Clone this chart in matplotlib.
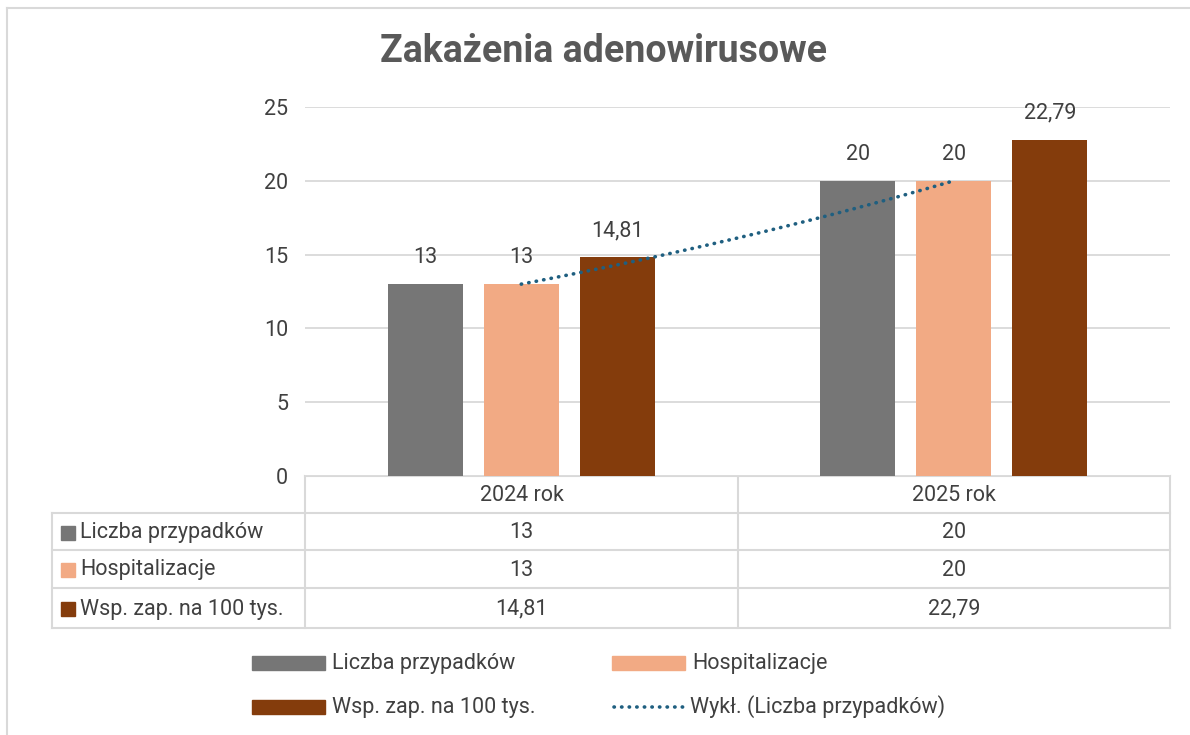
import numpy as np
import matplotlib
matplotlib.use("Agg")
import matplotlib.pyplot as plt
from matplotlib.patches import Rectangle

plt.rcParams['font.family'] = ['Roboto', 'DejaVu Sans']

categories = ['2024 rok', '2025 rok']
series_names = ['Liczba przypadków', 'Hospitalizacje', 'Wsp. zap. na 100 tys.']
cases = [13, 20]
hosp = [13, 20]
rate = [14.81, 22.79]
trend_name = 'Wykł. (Liczba przypadków)'
yticks = [0, 5, 10, 15, 20, 25]

colors = ['#767676', '#f2aa84', '#843c0c']
trend_color = '#1f5f80'
text_color = '#404040'
grid_color = '#d9d9d9'
fs = 15.5

W, H = 1190, 735
fig = plt.figure(figsize=(W / 100, H / 100), dpi=100)

def fx(px):
    return px / W

def fy(py):
    return 1 - py / H

# overlay axes in pixel coordinates (table, legend, border)
ov = fig.add_axes([0, 0, 1, 1])
ov.set_xlim(0, W)
ov.set_ylim(H, 0)
ov.axis('off')

# main plot area
x0, x1, ytop, ybot = 305, 1170, 107, 476
ax = fig.add_axes([fx(x0), fy(ybot), fx(x1) - fx(x0), (ybot - ytop) / H])
ax.set_xlim(-0.5, 1.5)
ax.set_ylim(0, 25)
for s in ax.spines.values():
    s.set_visible(False)
ax.set_xticks([])
ax.set_yticks(yticks)
ax.tick_params(axis='y', length=0, pad=12, labelsize=fs, labelcolor=text_color)
ax.yaxis.grid(True, color=grid_color, linewidth=1.3)
ax.set_axisbelow(True)

x = np.arange(len(categories))
width = 0.173
step = 0.222
values = [cases, hosp, rate]
for i, (vals, c) in enumerate(zip(values, colors)):
    bars = ax.bar(x + (i - 1) * step, vals, width, color=c, zorder=2)
    for b, v in zip(bars, vals):
        lbl = ('%g' % v).replace('.', ',')
        ax.text(b.get_x() + b.get_width() / 2, v + 1.1, lbl, ha='center', va='bottom',
                fontsize=fs, color=text_color, clip_on=False)

# exponential trendline for "Liczba przypadków"
b_, a_ = np.polyfit(x, np.log(cases), 1)
xt = np.linspace(x[0], x[-1], 100)
ax.plot(xt, np.exp(a_) * np.exp(b_ * xt), color=trend_color, linewidth=2.6,
        linestyle=(0, (0.1, 2.0)), dash_capstyle='round', zorder=3)

# title
fig.text(fx(603), fy(52), 'Zakażenia adenowirusowe', ha='center', va='center',
         fontsize=27, fontweight='bold', color='#595959')

# outer border
ov.plot([7, 7], [8, H], color=grid_color, linewidth=1.5)
ov.plot([7, W], [8, 8], color=grid_color, linewidth=1.5)

# data table
row_y = [476, 513, 550, 588, 628]
col_x = [52, 305, 738, 1170]
lc = '#d9d9d9'
lw = 1.5
ov.plot([x0, x1], [row_y[0], row_y[0]], color=lc, lw=lw)
for ry in row_y[1:]:
    ov.plot([col_x[0], col_x[-1]], [ry, ry], color=lc, lw=lw)
ov.plot([col_x[0], col_x[0]], [row_y[1], row_y[-1]], color=lc, lw=lw)
for cx in col_x[1:]:
    ov.plot([cx, cx], [row_y[0], row_y[-1]], color=lc, lw=lw)

for j, cat in enumerate(categories):
    xc = (col_x[j + 1] + col_x[j + 2]) / 2
    ov.text(xc, (row_y[0] + row_y[1]) / 2 + 1, cat, ha='center', va='center',
            fontsize=fs, color=text_color)
for i, (name, vals, c) in enumerate(zip(series_names, values, colors)):
    yc = (row_y[i + 1] + row_y[i + 2]) / 2 + 1
    ov.add_patch(Rectangle((61, yc - 7), 14, 14, color=c))
    ov.text(80, yc, name, ha='left', va='center', fontsize=fs, color=text_color)
    for j, v in enumerate(vals):
        xc = (col_x[j + 1] + col_x[j + 2]) / 2
        ov.text(xc, yc, ('%g' % v).replace('.', ','), ha='center', va='center',
                fontsize=fs, color=text_color)

# legend
leg = [(252, 663, series_names[0], colors[0]), (612, 663, series_names[1], colors[1]),
       (252, 707, series_names[2], colors[2])]
for lx, ly, name, c in leg:
    ov.add_patch(Rectangle((lx, ly - 7), 73, 14, color=c))
    ov.text(lx + 80, ly, name, ha='left', va='center', fontsize=fs, color=text_color)
ov.plot([614, 684], [707, 707], color=trend_color, linewidth=2.6,
        linestyle=(0, (0.1, 2.0)), dash_capstyle='round')
ov.text(690, 707, trend_name, ha='left', va='center', fontsize=fs, color=text_color)

fig.savefig('out.png', dpi=100)
